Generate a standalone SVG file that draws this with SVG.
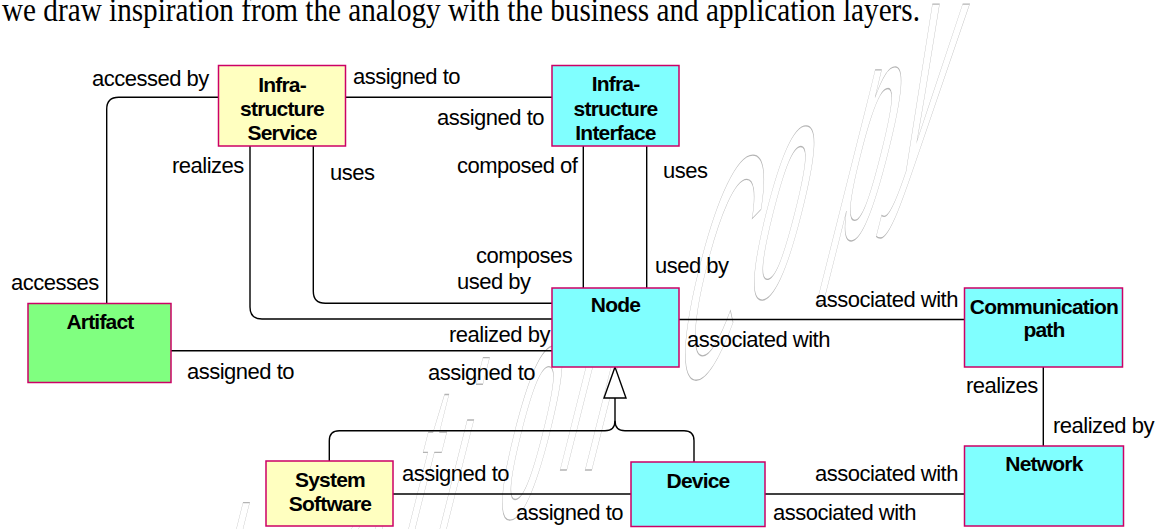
<svg xmlns="http://www.w3.org/2000/svg" width="1160" height="529" viewBox="0 0 1160 529">
<style>
.box{stroke:#cc0066;stroke-width:1.5}
.yellow{fill:#ffffc0}
.cyan{fill:#80ffff}
.green{fill:#80ff80}
.title{font-family:"Liberation Sans",Arial,sans-serif;font-weight:bold;font-size:21px;letter-spacing:-0.8px;text-anchor:middle;fill:#000}
.lbl{font-family:"Liberation Sans",Arial,sans-serif;font-size:22px;letter-spacing:-0.5px;fill:#000}
.conn{fill:none;stroke:#000;stroke-width:1.4}
.wm{fill:none;stroke:#b4b4b4;stroke-width:1;vector-effect:non-scaling-stroke;font-family:"Liberation Sans",Arial,sans-serif;font-size:100px}
</style>
<rect width="1160" height="529" fill="#fff"/>
<text class="wm" transform="matrix(0.75,0,-0.8,3.18,0,0)" x="328.5 378.4 431.6 485.9 568.1 639.7 714.5 757.2 826.8 897.6 967.6 1017.2 1088.9 1183.9 1244.4" y="283 267.3 248.4 230.5 220.1 206 188.7 184.9 162.6 147.8 132.1 118.6 93.4 74.8 54.1">Evaluation Copy</text>
<text x="2" y="20.7" font-family="Liberation Serif, Times New Roman, serif" font-size="33" textLength="918" lengthAdjust="spacingAndGlyphs" fill="#000">we draw inspiration from the analogy with the business and application layers.</text>

<g id="connectors">
<path class="conn" d="M345,97.3 H552"/>
<path class="conn" d="M106.7,303 V109.3 Q106.7,97.3 118.7,97.3 H218"/>
<path class="conn" d="M250,146 V307 Q250,319 262,319 H552"/>
<path class="conn" d="M313.3,146 V291.3 Q313.3,303.3 325.3,303.3 H552"/>
<path class="conn" d="M583.3,146 V288"/>
<path class="conn" d="M646.7,146 V288"/>
<path class="conn" d="M171,350.7 H552"/>
<path class="conn" d="M679,319.5 H964"/>
<path class="conn" d="M1043.3,367 V446"/>
<path class="conn" d="M765,494 H964"/>
<path class="conn" d="M393,494 H631"/>
<path class="conn" d="M329.3,461 V440.7 Q329.3,430.7 339.3,430.7 H605 Q615,430.7 615,420.7 V398"/>
<path class="conn" d="M694,462 V440.7 Q694,430.7 684,430.7 H625 Q615,430.7 615,420.7"/>
<polygon points="615,367 604,398 626,398" fill="#fff" stroke="#000" stroke-width="1.4"/>
<text class="lbl" x="92" y="86">accessed by</text>
<text class="lbl" x="353" y="84">assigned to</text>
<text class="lbl" x="437" y="125">assigned to</text>
<text class="lbl" x="172" y="173">realizes</text>
<text class="lbl" x="330" y="180">uses</text>
<text class="lbl" x="457" y="173">composed of</text>
<text class="lbl" x="663" y="178">uses</text>
<text class="lbl" x="476" y="263">composes</text>
<text class="lbl" x="457" y="289">used by</text>
<text class="lbl" x="655" y="273">used by</text>
<text class="lbl" x="11" y="290">accesses</text>
<text class="lbl" x="449" y="342">realized by</text>
<text class="lbl" x="187" y="379">assigned to</text>
<text class="lbl" x="428" y="380">assigned to</text>
<text class="lbl" x="687" y="347">associated with</text>
<text class="lbl" x="815" y="307">associated with</text>
<text class="lbl" x="966" y="393">realizes</text>
<text class="lbl" x="1053" y="433">realized by</text>
<text class="lbl" x="815" y="481">associated with</text>
<text class="lbl" x="773" y="520">associated with</text>
<text class="lbl" x="402" y="481">assigned to</text>
<text class="lbl" x="516" y="520">assigned to</text>
</g>

<g id="infrastructure-service">
<rect class="box yellow" x="218.5" y="65.5" width="127" height="80.5"/>
<text class="title" x="282" y="91.5">Infra-</text>
<text class="title" x="282" y="116">structure</text>
<text class="title" x="282" y="140">Service</text>
</g>
<g id="infrastructure-interface">
<rect class="box cyan" x="552" y="65.5" width="127" height="80.5"/>
<text class="title" x="615.5" y="91">Infra-</text>
<text class="title" x="615.5" y="115.5">structure</text>
<text class="title" x="615.5" y="140">Interface</text>
</g>
<g id="artifact">
<rect class="box green" x="28" y="303.5" width="143" height="79"/>
<text class="title" x="100" y="328.5">Artifact</text>
</g>
<g id="node">
<rect class="box cyan" x="552" y="288" width="127" height="79"/>
<text class="title" x="615.5" y="312">Node</text>
</g>
<g id="communication-path">
<rect class="box cyan" x="964.5" y="288" width="158" height="79"/>
<text class="title" x="1044" y="314">Communication</text>
<text class="title" x="1044" y="336.5">path</text>
</g>
<g id="network">
<rect class="box cyan" x="964.5" y="446" width="159" height="80"/>
<text class="title" x="1044" y="471">Network</text>
</g>
<g id="system-software">
<rect class="box yellow" x="266" y="461" width="127" height="65"/>
<text class="title" x="330" y="487">System</text>
<text class="title" x="330" y="511">Software</text>
</g>
<g id="device">
<rect class="box cyan" x="631" y="462" width="134" height="64.5"/>
<text class="title" x="698" y="487.5">Device</text>
</g>
</svg>
